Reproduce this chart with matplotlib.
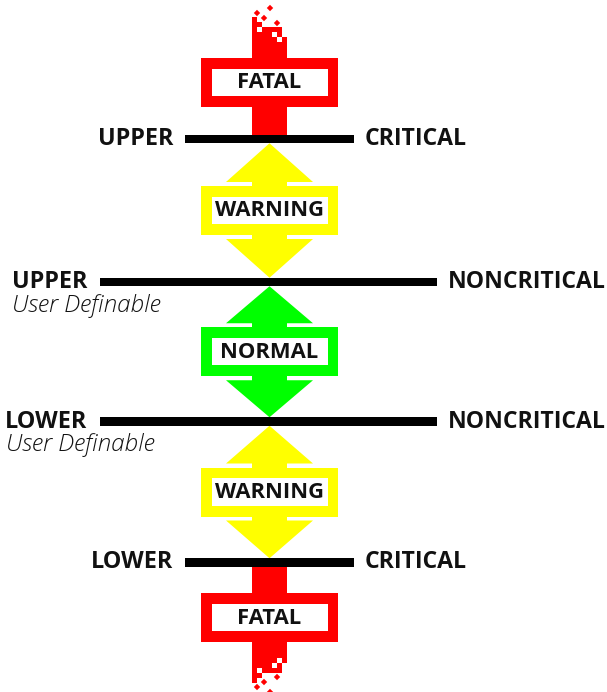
import matplotlib
matplotlib.use('Agg')
from matplotlib import pyplot as plt
from matplotlib.patches import Rectangle, Polygon

plt.rcParams['font.family'] = ['Open Sans', 'DejaVu Sans']

# zones from top to bottom
zone_names = ['FATAL', 'WARNING', 'NORMAL', 'WARNING', 'FATAL']
zone_colors = ['#ff0000', '#ffff00', '#00ff00', '#ffff00', '#ff0000']

# threshold lines: (left label, right label, sub label)
line_left = ['UPPER', 'UPPER', 'LOWER', 'LOWER']
line_right = ['CRITICAL', 'NONCRITICAL', 'NONCRITICAL', 'CRITICAL']
line_sub = ['', 'User Definable', 'User Definable', '']
line_y = [139, 282, 421.5, 562.5]          # line centres (px)
line_x = [(185, 354), (100, 437), (100, 437), (185, 354)]
left_x = [173, 87, 87, 173]                 # right edge of left label
right_x = [365, 448, 448, 365]              # left edge of right label
sub_x = [0, 12, 6, 0]

# dither at the open ends of the fatal stems (cells of 5 px, row nearest the stem last)
dither_rows = ['#......',
               '##.....',
               '#.####.',
               '####.#.',
               '#####.#']
dither_diamonds = [(270, 8), (257, 13), (264, 18), (277, 23)]

W, H = 607, 692
CX = 269.5
LW = 8.5
BOX_X0, BOX_X1 = 201, 338
BOX_H = 49
BORDER = 10.5
STEM = (252, 287)
TRI = (226, 313)
NECK = 4

fig = plt.figure(figsize=(W / 100, H / 100), dpi=100)
ax = fig.add_axes([0, 0, 1, 1])
ax.set_xlim(0, W)
ax.set_ylim(H, 0)
ax.axis('off')


def draw_box(y0, color, label):
    ax.add_patch(Rectangle((BOX_X0, y0), BOX_X1 - BOX_X0, BOX_H, fc=color, ec='none', zorder=2))
    ax.add_patch(Rectangle((BOX_X0 + BORDER, y0 + BORDER), BOX_X1 - BOX_X0 - 2 * BORDER,
                           BOX_H - 2 * BORDER - 0.5, fc='white', ec='none', zorder=3))
    ax.text(CX, y0 + BOX_H / 2 + 0.5, label, ha='center', va='center', fontsize=15.8,
            fontweight='bold', color='#111111', zorder=4)


def draw_arrow(top, bottom, color, label):
    span = bottom - top
    th = (span - BOX_H - 2 * NECK) / 2.0
    b0 = top + th
    box0 = b0 + NECK
    box1 = box0 + BOX_H
    b1 = box1 + NECK
    # top triangle + neck
    ax.add_patch(Polygon([(CX, top), (TRI[1], b0), (STEM[1], b0), (STEM[1], box0 + 1),
                          (STEM[0], box0 + 1), (STEM[0], b0), (TRI[0], b0)],
                         closed=True, fc=color, ec='none', zorder=2))
    ax.add_patch(Polygon([(CX, bottom), (TRI[1], b1), (STEM[1], b1), (STEM[1], box1 - 1),
                          (STEM[0], box1 - 1), (STEM[0], b1), (TRI[0], b1)],
                         closed=True, fc=color, ec='none', zorder=2))
    draw_box(box0, color, label)


def draw_fatal(edge, line_edge, color, label, direction):
    # direction -1: going up from the line, +1: going down
    solid_end = edge
    y_a, y_b = sorted([solid_end, line_edge])
    ax.add_patch(Rectangle((STEM[0], y_a), STEM[1] - STEM[0], y_b - y_a, fc=color, ec='none', zorder=2))
    if direction < 0:
        box0 = solid_end + 16
    else:
        box0 = solid_end - 16 - BOX_H
    draw_box(box0, color, label)
    n = len(dither_rows)
    for i, row in enumerate(dither_rows):
        k = n - i  # distance in cells from solid part
        for j, c in enumerate(row):
            if c != '#':
                continue
            y = solid_end - 5 * k if direction < 0 else solid_end + 5 * (k - 1)
            ax.add_patch(Rectangle((STEM[0] + 5 * j, y), 5.2, 5.2, fc=color, ec='none', zorder=2))
    for dx, dy in dither_diamonds:
        y = dy if direction < 0 else 700 - dy
        ax.add_patch(Polygon([(dx, y - 3.2), (dx + 3.2, y), (dx, y + 3.2), (dx - 3.2, y)],
                             closed=True, fc=color, ec='none', zorder=2))


# threshold lines and labels
for i in range(len(line_y)):
    x0, x1 = line_x[i]
    ax.add_patch(Rectangle((x0, line_y[i] - LW / 2), x1 - x0, LW, fc='black', ec='none', zorder=5))
    ax.text(left_x[i], line_y[i] + 6, line_left[i], ha='right', va='baseline', fontsize=16.8,
            fontweight='bold', color='#111111')
    ax.text(right_x[i], line_y[i] + 6, line_right[i], ha='left', va='baseline', fontsize=16.6,
            fontweight='bold', color='#111111')
    if line_sub[i]:
        ax.text(sub_x[i], line_y[i] + 29.5, line_sub[i], ha='left', va='baseline', fontsize=17.5,
                style='italic', fontweight='light', color='#111111')

# zones
draw_fatal(42, line_y[0], zone_colors[0], zone_names[0], -1)
for k in range(3):
    draw_arrow(line_y[k] + LW / 2, line_y[k + 1] - LW / 2, zone_colors[k + 1], zone_names[k + 1])
draw_fatal(658, line_y[3], zone_colors[4], zone_names[4], 1)

fig.savefig('out.png', dpi=100, facecolor='white')
